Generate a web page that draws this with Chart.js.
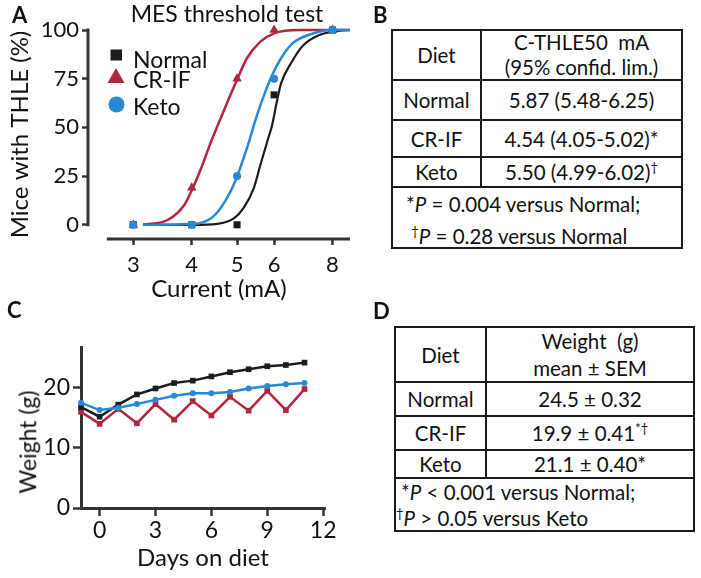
<!DOCTYPE html>
<html><head><meta charset="utf-8">
<script src="https://cdn.jsdelivr.net/npm/chart.js@4.4.1/dist/chart.umd.min.js"></script>
<style>
html,body{margin:0;padding:0;background:#fff;}
body{width:701px;height:578px;position:relative;overflow:hidden;font-family:Lato,'DejaVu Sans',sans-serif;color:#111;}
.abs{position:absolute;white-space:nowrap;line-height:1.2;}
.letter{font-weight:bold;font-size:22px;}
canvas{position:absolute;}
.tbl{position:absolute;display:grid;background:#1a1a1a;padding:2px;gap:2px;font-size:20.5px;}
.tbl > div{background:#fff;display:flex;align-items:center;justify-content:center;text-align:center;white-space:nowrap;}
.tbl > div.foot{grid-column:1 / span 2;display:block;text-align:left;}
.sup{font-size:13px;position:relative;top:-8px;line-height:0;}
</style>
</head><body>
<canvas id="cA" width="360" height="310" style="left:0;top:0"></canvas>
<canvas id="cC" width="360" height="288" style="left:0;top:290px"></canvas>
<div class="abs letter" style="left:12px;top:2px">A</div>
<div class="abs letter" style="left:373px;top:2px">B</div>
<div class="abs letter" style="left:7px;top:297px">C</div>
<div class="abs letter" style="left:373px;top:298px">D</div>
<div class="abs" style="left:117px;width:220px;top:0px;text-align:center;font-size:23px">MES threshold test</div>
<div class="abs" style="left:27.5px;top:441.7px;font-size:23px;transform:translate(-50%,-50%) rotate(-90deg)">Weight (g)</div>
<div id="tB" class="tbl" style="left:391px;top:29px;grid-template-columns:87px 199px;grid-template-rows:48px 38px 35px 28px 59px;"></div>
<div id="tD" class="tbl" style="left:394px;top:326px;grid-template-columns:89px 206px;grid-template-rows:53px 32px 32px 26px 51px;"></div>
<script>
// ---------- data ----------
const seriesNames = ['Normal', 'CR-IF', 'Keto'];

// Panel A: MES threshold test
const currents = [3, 4, 5, 6, 8];
const normalPct = [0, 0, 0, 66.7, 100];
const crifPct = [0, 19, 75, 100, 100];
const ketoPct = [0, 0, 25, 75, 100];
const xTicksA = [3, 4, 5, 6, 8];
const yTicksA = [0, 25, 50, 75, 100];
// fitted curves
const normalFitX = [3.15, 4.0, 4.54, 4.93, 5.16, 5.43, 5.61, 5.83, 5.94, 6.08, 6.21, 6.55, 6.92, 7.5, 8.25, 8.72];
const normalFitY = [0, 0, 0.5, 3.4, 8.5, 18.8, 30.8, 44.4, 51, 63, 72.6, 83.7, 92, 97.4, 99.5, 100];
const ketoFitX = [3.15, 4.05, 4.40, 4.61, 4.84, 5.0, 5.16, 5.33, 5.46, 5.64, 5.92, 6.21, 6.56, 7.22, 7.96, 8.72];
const ketoFitY = [0, 0.5, 3.4, 8.5, 17, 24.8, 34, 44.4, 53, 63, 76, 85.5, 93, 98, 100, 100];
const crifFitX = [3.15, 3.56, 3.86, 4.02, 4.19, 4.40, 4.55, 4.74, 5.0, 5.25, 5.61, 6.0, 6.8, 8.72];
const crifFitY = [0, 2.6, 10.3, 18.8, 29, 42.7, 51.3, 61.5, 74.4, 85.5, 94, 98.3, 100, 100];

// Panel B table
const thle50Mid = ['5.87', '4.54', '5.50'];
const thle50CI = ['5.48-6.25', '4.05-5.02', '4.99-6.02'];

// Panel C: weight over days
const days = [-1, 0, 1, 2, 3, 4, 5, 6, 7, 8, 9, 10, 11];
const normalWeight = [16.8, 15.2, 17.2, 18.9, 19.9, 20.8, 21.2, 21.9, 22.6, 23.1, 23.6, 23.8, 24.2];
const crifWeight = [16.0, 14.0, 16.5, 14.1, 17.3, 14.7, 17.8, 15.4, 18.5, 16.2, 19.5, 16.3, 19.8];
const ketoWeight = [17.5, 16.3, 16.7, 17.3, 18.0, 18.7, 19.1, 19.1, 19.3, 19.9, 20.3, 20.6, 20.8];
const xTicksC = [0, 3, 6, 9, 12];
const yTicksC = [0, 10, 20];

// Panel D table
const weightMean = ['24.5', '19.9', '21.1'];
const weightSEM = ['0.32', '0.41', '0.40'];

// ---------- styles ----------
const BLUE = '#2788d6', RED = '#b1263d', BLACK = '#1c1c1c', AX = '#333333', TXT = '#111111';
const FONT = "Lato, 'DejaVu Sans', sans-serif";
const pts = (xs, ys) => xs.map((x, i) => ({x: x, y: ys[i]}));

// ---------- tables ----------
function cell(html, cls) { return '<div' + (cls ? ' class="' + cls + '"' : '') + '><span>' + html + '</span></div>'; }
const marksB = ['', '*', '<span class="sup">†</span>'];
let hB = cell('Diet') + cell('<div style="line-height:25px">C-THLE50&nbsp; mA<br>(95% confid. lim.)</div>');
seriesNames.forEach((n, i) => { hB += cell(n) + cell(thle50Mid[i] + ' (' + thle50CI[i] + ')' + marksB[i]); });
hB += cell('<div style="line-height:32px;padding-left:13px">*<i>P</i> = 0.004 versus Normal;<br>&nbsp;<span class="sup">†</span><i>P</i> = 0.28 versus Normal</div>', 'foot');
document.getElementById('tB').innerHTML = hB;

const marksD = ['', '<span class="sup">*†</span>', '*'];
let hD = cell('Diet') + cell('<div style="line-height:27px">Weight&nbsp; (g)<br>mean ± SEM</div>');
seriesNames.forEach((n, i) => { hD += cell(n) + cell(weightMean[i] + ' ± ' + weightSEM[i] + marksD[i]); });
hD += cell('<div style="line-height:26px;padding-left:5px">*<i>P</i> &lt; 0.001 versus Normal;<br><span class="sup" style="margin-left:-5px">†</span><i>P</i> &gt; 0.05 versus Keto</div>', 'foot');
document.getElementById('tD').innerHTML = hD;

// ---------- chart A ----------
const xAxisStartA = 2.633;
const axisA = {
  id: 'axisA',
  beforeDatasetsDraw(chart) {
    const {ctx, chartArea: ca, scales: {x, y}} = chart;
    ctx.save();
    ctx.strokeStyle = AX; ctx.lineWidth = 3;
    ctx.beginPath();
    ctx.moveTo(ca.left, y.getPixelForValue(100) - 1.5);
    ctx.lineTo(ca.left, y.getPixelForValue(0) + 1.5);
    ctx.moveTo(x.getPixelForValue(xAxisStartA), ca.bottom);
    ctx.lineTo(ca.right, ca.bottom);
    ctx.stroke();
    ctx.restore();
  }
};
const legendA = {
  id: 'legendA',
  afterDatasetsDraw(chart) {
    const ctx = chart.ctx;
    ctx.save();
    ctx.fillStyle = BLACK;
    ctx.fillRect(110.5, 49.5, 11.5, 11);
    ctx.fillStyle = RED;
    ctx.beginPath(); ctx.moveTo(116, 68); ctx.lineTo(124.5, 83); ctx.lineTo(107.5, 83); ctx.closePath(); ctx.fill();
    ctx.fillStyle = BLUE;
    ctx.beginPath(); ctx.arc(116.5, 104.5, 8, 0, Math.PI * 2); ctx.fill();
    ctx.fillStyle = TXT;
    ctx.font = '23px ' + FONT;
    ctx.textBaseline = 'alphabetic';
    const baselines = [67.5, 88, 115];
    seriesNames.forEach((n, i) => ctx.fillText(n, 133, baselines[i]));
    ctx.restore();
  }
};

new Chart(document.getElementById('cA'), {
  type: 'scatter',
  data: {datasets: [
    {label: 'Keto', data: pts(currents, ketoPct), pointStyle: 'circle', pointRadius: 4, backgroundColor: BLUE, borderColor: BLUE, pointBorderWidth: 0, showLine: false, order: 0, clip: false},
    {label: 'CR-IF', data: pts(currents, crifPct), pointStyle: 'triangle', pointRadius: 5.5, backgroundColor: RED, borderColor: RED, pointBorderWidth: 0, showLine: false, order: 1, clip: false},
    {label: 'Normal', data: pts(currents, normalPct), pointStyle: 'rect', pointRadius: 5, backgroundColor: BLACK, borderColor: BLACK, pointBorderWidth: 0, showLine: false, order: 2, clip: false},
    {label: 'Keto fit', data: pts(ketoFitX, ketoFitY), showLine: true, pointRadius: 0, borderColor: BLUE, borderWidth: 2.5, cubicInterpolationMode: 'monotone', order: 3, clip: false},
    {label: 'Normal fit', data: pts(normalFitX, normalFitY), showLine: true, pointRadius: 0, borderColor: BLACK, borderWidth: 2.2, cubicInterpolationMode: 'monotone', order: 4, clip: false},
    {label: 'CR-IF fit', data: pts(crifFitX, crifFitY), showLine: true, pointRadius: 0, borderColor: RED, borderWidth: 2.5, cubicInterpolationMode: 'monotone', order: 5, clip: false}
  ]},
  options: {
    responsive: false, animation: false, devicePixelRatio: 1,
    layout: {padding: {top: 30, right: 10, left: 0, bottom: 0}},
    plugins: {legend: {display: false}, tooltip: {enabled: false}, title: {display: false}},
    scales: {
      x: {
        type: 'logarithmic', min: 2.4228, max: 8.72,
        afterBuildTicks: s => { s.ticks = xTicksA.map(v => ({value: v})); },
        afterFit: s => { s.height = 71; },
        grid: {display: true, drawOnChartArea: false, drawTicks: true, tickLength: 6, tickColor: AX, tickWidth: 2.5},
        border: {display: false},
        ticks: {font: {family: FONT, size: 22}, color: TXT, padding: 7, maxRotation: 0, autoSkip: false, callback: v => String(v)},
        title: {display: true, text: 'Current (mA)', font: {family: FONT, size: 24}, color: TXT, padding: {top: 0, bottom: 6}}
      },
      y: {
        type: 'linear', min: -7.3, max: 100,
        afterBuildTicks: s => { s.ticks = yTicksA.map(v => ({value: v})); },
        afterFit: s => { s.width = 88; },
        grid: {display: true, drawOnChartArea: false, drawTicks: true, tickLength: 6, tickColor: AX, tickWidth: 2.5},
        border: {display: false},
        ticks: {font: {family: FONT, size: 22}, color: TXT, padding: 3, callback: v => String(v)},
        title: {display: true, text: 'Mice with THLE (%)', font: {family: FONT, size: 24}, color: TXT, padding: {top: 6, bottom: 0}}
      }
    }
  },
  plugins: [axisA, legendA]
});

// ---------- chart C ----------
new Chart(document.getElementById('cC'), {
  type: 'line',
  data: {datasets: [
    {label: 'Keto', data: pts(days, ketoWeight), borderColor: BLUE, backgroundColor: BLUE, pointStyle: 'circle', pointRadius: 3, pointBorderWidth: 0, borderWidth: 2.5, order: 0, clip: false},
    {label: 'Normal', data: pts(days, normalWeight), borderColor: BLACK, backgroundColor: BLACK, pointStyle: 'rect', pointRadius: 4, pointBorderWidth: 0, borderWidth: 2.5, order: 1, clip: false},
    {label: 'CR-IF', data: pts(days, crifWeight), borderColor: RED, backgroundColor: RED, pointStyle: 'rect', pointRadius: 4, pointBorderWidth: 0, borderWidth: 2.5, order: 2, clip: false}
  ]},
  options: {
    responsive: false, animation: false, devicePixelRatio: 1,
    layout: {padding: {top: 57, right: 35, left: 0, bottom: 0}},
    plugins: {legend: {display: false}, tooltip: {enabled: false}},
    scales: {
      x: {
        type: 'linear', min: -1, max: 12.1,
        afterBuildTicks: s => { s.ticks = xTicksC.map(v => ({value: v})); },
        afterFit: s => { s.height = 70; },
        grid: {display: true, drawOnChartArea: false, drawTicks: true, tickLength: 8, tickColor: AX, tickWidth: 2.5},
        border: {display: true, color: AX, width: 3},
        ticks: {font: {family: FONT, size: 23}, color: TXT, padding: 1, maxRotation: 0, autoSkip: false, callback: v => String(v)},
        title: {display: true, text: 'Days on diet', font: {family: FONT, size: 24}, color: TXT, padding: {top: 0, bottom: 5}}
      },
      y: {
        type: 'linear', min: 0, max: 26.8,
        afterBuildTicks: s => { s.ticks = yTicksC.map(v => ({value: v})); },
        afterFit: s => { s.width = 81; },
        grid: {display: true, drawOnChartArea: false, drawTicks: true, tickLength: 8, tickColor: AX, tickWidth: 2.5},
        border: {display: true, color: AX, width: 3},
        ticks: {font: {family: FONT, size: 23}, color: TXT, padding: 3, callback: v => String(v)}
      }
    }
  }
});
</script>
</body></html>
